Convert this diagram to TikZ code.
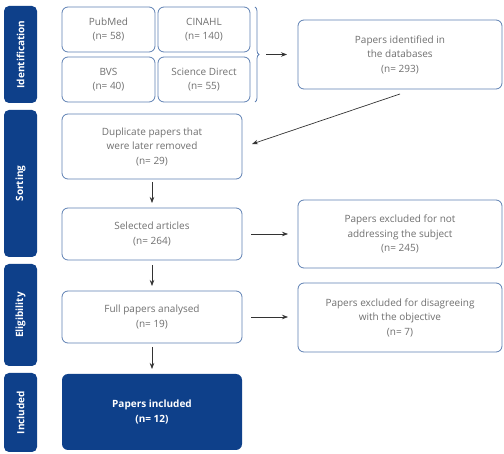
\documentclass[tikz,border=0pt]{standalone}
\usepackage{fontspec}
\setmainfont{Open Sans}
\usetikzlibrary{arrows.meta,decorations.pathreplacing}
\definecolor{navy}{HTML}{0E408A}
\definecolor{edge}{HTML}{5E80B3}
\definecolor{txt}{HTML}{707070}
\definecolor{arr}{HTML}{333333}
\tikzset{
  phase/.style={fill=navy,rounded corners=5pt,draw=none},
  phasetxt/.style={text=white,font=\bfseries\fontsize{10}{12}\selectfont,rotate=90},
  boxn/.style={draw=edge,line width=0.8pt,rounded corners=6pt,fill=white},
  boxtxt/.style={text=txt,font=\fontsize{10}{14.5}\selectfont,align=center},
  conn/.style={draw=arr,line width=0.7pt,-{Stealth[length=6pt,width=4.5pt]}},
}
\begin{document}
\begin{tikzpicture}[x=1pt,y=-1pt]
\useasboundingbox (0,0) rectangle (504,454);
% phase bars
\draw[phase] (4,6) rectangle (37,103);
\node[phasetxt] (pid) at (20.5,54.5) {Identification};
\draw[phase] (4,110) rectangle (37,257);
\node[phasetxt] (pso) at (20.5,183.5) {Sorting};
\draw[phase] (4,264) rectangle (37,366);
\node[phasetxt] (pel) at (20.5,315) {Eligibility};
\draw[phase] (4,373) rectangle (37,452);
\node[phasetxt] (pin) at (20.5,412.5) {Included};
% database boxes
\draw[boxn] (62,7) rectangle (155,52);
\node[boxtxt] (pub) at (108.5,29.5) {PubMed\\(n= 58)};
\draw[boxn] (158,7) rectangle (250,52);
\node[boxtxt] (cin) at (204,29.5) {CINAHL\\(n= 140)};
\draw[boxn] (62,57) rectangle (155,102);
\node[boxtxt] (bvs) at (108.5,79.5) {BVS\\(n= 40)};
\draw[boxn] (158,57) rectangle (250,102);
\node[boxtxt] (sci) at (204,79.5) {Science Direct\\(n= 55)};
% brace
\draw[edge,line width=0.8pt,decorate,decoration={brace,amplitude=4pt}] (255,7) -- (255,102);
\coordinate (bt) at (266,54.5);
% identified
\draw[boxn] (298,20) rectangle (502,89);
\node[boxtxt] (ident) at (400,54.5) {Papers identified in\\the databases\\(n= 293)};
\coordinate (ia) at (287,54.5);
\draw[conn] (bt) -- (ia);
% duplicates
\draw[boxn] (62,114) rectangle (242,179);
\node[boxtxt] (dup) at (152,146.5) {Duplicate papers that\\were later removed\\(n= 29)};
\coordinate (ds) at (400,94);
\coordinate (de) at (252,144);
\draw[conn] (ds) -- (de);
% selected
\draw[boxn] (62,208) rectangle (242,260);
\node[boxtxt] (sel) at (152,234) {Selected articles\\(n= 264)};
\coordinate (d1s) at (152,182);
\coordinate (d1e) at (152,203);
\draw[conn] (d1s) -- (d1e);
% excluded 245
\draw[boxn] (298,200) rectangle (502,268);
\node[boxtxt] (ex1) at (400,234) {Papers excluded for not\\addressing the subject\\(n= 245)};
\coordinate (r1s) at (251,234);
\coordinate (r1e) at (288,234);
\draw[conn] (r1s) -- (r1e);
% full papers
\draw[boxn] (62,291) rectangle (242,343);
\node[boxtxt] (full) at (152,317) {Full papers analysed\\(n= 19)};
\coordinate (d2s) at (152,265);
\coordinate (d2e) at (152,286);
\draw[conn] (d2s) -- (d2e);
% excluded 7
\draw[boxn] (298,283) rectangle (502,352);
\node[boxtxt] (ex2) at (400,317.5) {Papers excluded for disagreeing\\with the objective\\(n= 7)};
\coordinate (r2s) at (251,317);
\coordinate (r2e) at (288,317);
\draw[conn] (r2s) -- (r2e);
% included
\draw[phase,rounded corners=6pt] (62,374) rectangle (242,450);
\node[boxtxt,text=white,font=\bfseries\fontsize{10}{14.5}\selectfont] (inc) at (152,412) {Papers included\\(n= 12)};
\coordinate (d3s) at (152,347);
\coordinate (d3e) at (152,369);
\draw[conn] (d3s) -- (d3e);
\end{tikzpicture}
\end{document}
